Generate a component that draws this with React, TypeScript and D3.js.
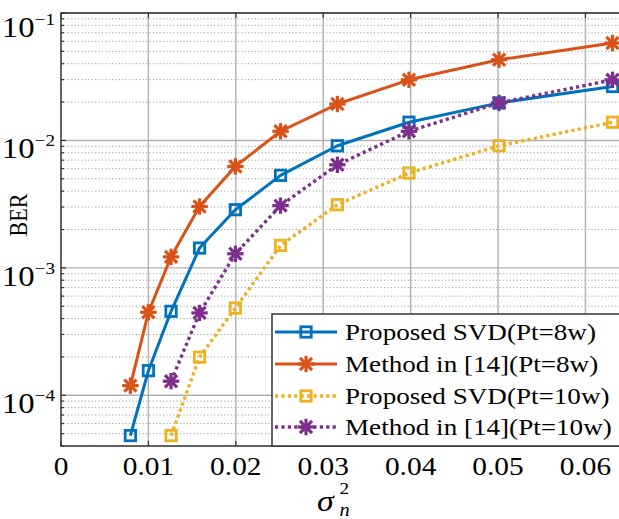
import React from "react";
import * as d3 from "d3";

const sigma2 = [0.00794, 0.01, 0.01259, 0.01585, 0.01995, 0.02512, 0.03162, 0.03981, 0.05012, 0.0631];
const svd8 = [4.83e-5, 1.56e-4, 4.56e-4, 1.43e-3, 2.86e-3, 5.32e-3, 9.08e-3, 0.0139, 0.0197, 0.0265];
const ref8 = [1.19e-4, 4.48e-4, 1.22e-3, 3.03e-3, 6.25e-3, 0.0118, 0.0193, 0.0299, 0.043, 0.0581];
const sigma2b = [0.01259, 0.01585, 0.01995, 0.02512, 0.03162, 0.03981, 0.05012, 0.0631];
const svd10 = [4.83e-5, 1.99e-4, 4.84e-4, 1.5e-3, 3.13e-3, 5.55e-3, 9.08e-3, 0.0139];
const ref10 = [1.29e-4, 4.43e-4, 1.29e-3, 3.08e-3, 6.44e-3, 0.0118, 0.0197, 0.0299];

const xTicks = [0, 0.01, 0.02, 0.03, 0.04, 0.05, 0.06];
const xTickLabels = ["0", "0.01", "0.02", "0.03", "0.04", "0.05", "0.06"];
const yTicks = [1e-1, 1e-2, 1e-3, 1e-4];
const yTickExps = ["\u22121", "\u22122", "\u22123", "\u22124"];
const legendLabels = [
  "Proposed SVD(Pt=8w)",
  "Method in [14](Pt=8w)",
  "Proposed SVD(Pt=10w)",
  "Method in [14](Pt=10w)",
];

const W = 619;
const H = 519;
const L = 61, T = 13, R = 620.4, B = 446;
const SX = 1.13;
const FONT = "'Liberation Serif', 'Times New Roman', serif";

const x = d3.scaleLinear().domain([0, 0.064]).range([L, R]);
const y = d3.scaleLog().domain([4e-5, 0.1]).range([B, T]);

type Series = {
  xs: number[];
  ys: number[];
  color: string;
  dotted: boolean;
  marker: "square" | "star";
};

const series: Series[] = [
  { xs: sigma2, ys: svd8, color: "#0072BD", dotted: false, marker: "square" },
  { xs: sigma2, ys: ref8, color: "#D95319", dotted: false, marker: "star" },
  { xs: sigma2b, ys: svd10, color: "#EDB120", dotted: true, marker: "square" },
  { xs: sigma2b, ys: ref10, color: "#7E2F8E", dotted: true, marker: "star" },
];

function Marker({ cx, cy, kind, color }: { cx: number; cy: number; kind: string; color: string }) {
  if (kind === "square") {
    return (
      <rect x={cx - 5.2} y={cy - 5.2} width={10.4} height={10.4} fill="none" stroke={color} strokeWidth={2.8} />
    );
  }
  const r = 8.2;
  const d = r * 0.74;
  return (
    <g stroke={color} strokeWidth={3.2} strokeLinecap="butt">
      <line x1={cx - r} y1={cy} x2={cx + r} y2={cy} />
      <line x1={cx} y1={cy - r} x2={cx} y2={cy + r} />
      <line x1={cx - d} y1={cy - d} x2={cx + d} y2={cy + d} />
      <line x1={cx - d} y1={cy + d} x2={cx + d} y2={cy - d} />
    </g>
  );
}

export default function App() {
  const line = d3
    .line<[number, number]>()
    .x((d) => x(d[0]))
    .y((d) => y(d[1]));

  const minor: number[] = [];
  for (let e = -5; e <= -2; e++) {
    for (let k = 2; k <= 9; k++) {
      const v = k * Math.pow(10, e);
      if (v >= 4e-5 && v < 0.1) minor.push(v);
    }
  }

  const legendRows = [332, 364, 396, 427];

  return (
    <svg
      width={W}
      height={H}
      style={{ position: "absolute", left: 0, top: 0, background: "#fff" }}
      fontFamily={FONT}
    >
      <rect x={0} y={0} width={W} height={H} fill="#fff" />
      {/* minor horizontal grid */}
      {minor.map((v, i) => (
        <line key={"mn" + i} x1={L} x2={R} y1={y(v)} y2={y(v)} stroke="#8a8a8a" strokeWidth={1} strokeDasharray="1.2 2.2" opacity={0.8} />
      ))}
      {/* major grid */}
      {yTicks.map((v, i) => (
        <line key={"mjy" + i} x1={L} x2={R} y1={y(v)} y2={y(v)} stroke="#b0b0b0" strokeWidth={1.4} />
      ))}
      {xTicks.slice(1).map((v, i) => (
        <line key={"mjx" + i} x1={x(v)} x2={x(v)} y1={T} y2={B} stroke="#b0b0b0" strokeWidth={1.4} />
      ))}
      {/* ticks */}
      {minor.map((v, i) => (
        <g key={"mt" + i}>
          <line x1={L} x2={L + 3} y1={y(v)} y2={y(v)} stroke="#333" strokeWidth={1.2} />
        </g>
      ))}
      {yTicks.map((v, i) => (
        <line key={"yt" + i} x1={L} x2={L + 5} y1={y(v)} y2={y(v)} stroke="#333" strokeWidth={1.2} />
      ))}
      {xTicks.map((v, i) => (
        <g key={"xt" + i}>
          <line x1={x(v)} x2={x(v)} y1={B} y2={B - 5} stroke="#333" strokeWidth={1.2} />
          <line x1={x(v)} x2={x(v)} y1={T} y2={T + 5} stroke="#333" strokeWidth={1.2} />
        </g>
      ))}
      {/* axes box */}
      <rect x={L} y={T} width={R - L} height={B - T} fill="none" stroke="#333" strokeWidth={1.5} />

      {/* series */}
      {series.map((s, si) => {
        const pts: [number, number][] = s.xs.map((xv, i) => [xv, s.ys[i]]);
        return (
          <g key={"s" + si}>
            <path
              d={line(pts) || ""}
              fill="none"
              stroke={s.color}
              strokeWidth={s.dotted ? 3.4 : 3}
              strokeDasharray={s.dotted ? "3.2 3.2" : undefined}
              strokeLinejoin="round"
            />
            {pts.map((p, i) => (
              <Marker key={i} cx={x(p[0])} cy={y(p[1])} kind={s.marker} color={s.color} />
            ))}
          </g>
        );
      })}

      {/* y tick labels */}
      {yTicks.map((v, i) => (
        <text
          key={"yl" + i}
          transform={`translate(55, ${Math.max(y(v) + 18, 37)}) scale(${SX},1)`}
          textAnchor="end"
          fontSize={29}
          fill="#000"
        >
          10
          <tspan fontSize={17} dy={-12}>
            {yTickExps[i]}
          </tspan>
        </text>
      ))}

      {/* x tick labels */}
      {xTicks.map((v, i) => (
        <text
          key={"xl" + i}
          transform={`translate(${x(v)}, 475) scale(${SX},1)`}
          textAnchor="middle"
          fontSize={26}
          fill="#000"
        >
          {xTickLabels[i]}
        </text>
      ))}

      {/* y label */}
      <text transform={`translate(27, 215) scale(${SX},1) rotate(-90)`} textAnchor="middle" fontSize={22} fill="#000">
        BER
      </text>

      {/* x label */}
      <g transform={`translate(317, 511) scale(${SX},1)`}>
        <text x={0} y={0} fontSize={30} fontStyle="italic" fill="#000">σ</text>
        <text x={20} y={-17} fontSize={17} fill="#000">2</text>
        <text x={20} y={5} fontSize={18} fontStyle="italic" fill="#000">n</text>
      </g>

      {/* legend */}
      <rect x={272} y={314} width={360} height={B - 314} fill="#fff" stroke="#333" strokeWidth={1.5} />
      {series.map((s, i) => {
        const ly = legendRows[i];
        return (
          <g key={"lg" + i}>
            <line
              x1={275}
              x2={337}
              y1={ly}
              y2={ly}
              stroke={s.color}
              strokeWidth={s.dotted ? 3.4 : 3}
              strokeDasharray={s.dotted ? "3.2 3.2" : undefined}
            />
            <Marker cx={306} cy={ly} kind={s.marker} color={s.color} />
            <text transform={`translate(345, ${ly + 8}) scale(${SX},1)`} fontSize={24} fill="#000">
              {legendLabels[i]}
            </text>
          </g>
        );
      })}
    </svg>
  );
}
